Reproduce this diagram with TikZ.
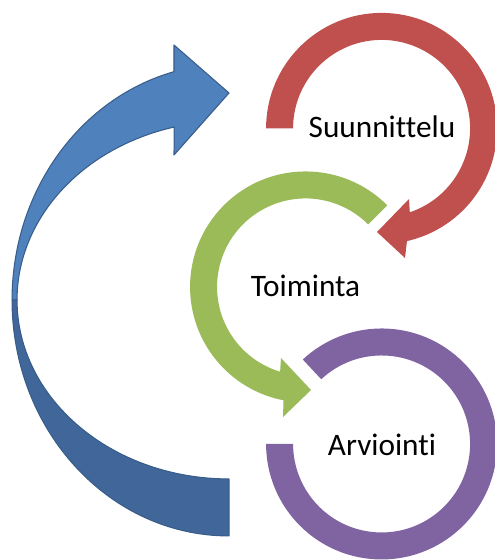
\documentclass[tikz,border=0pt]{standalone}
\usepackage{fontspec}
\setmainfont{Carlito}[Ligatures=NoCommon]
\usetikzlibrary{calc}
\definecolor{planred}{HTML}{C0504D}
\definecolor{actgreen}{HTML}{9BBB59}
\definecolor{evalpurple}{HTML}{8064A2}
\definecolor{backblue}{HTML}{4F81BD}
\definecolor{backdark}{HTML}{41679A}
\definecolor{backline}{HTML}{385D8A}
\begin{document}
\begin{tikzpicture}[scale=0.02,
    ringtext/.style={font=\fontsize{17.8}{20}\selectfont,anchor=base,inner sep=0pt},
    bluearrow/.style={draw=backline,line width=0.6pt,line join=round}]
      \useasboundingbox (0,0) rectangle (495,560);
      \coordinate (plan) at (381.5,431.5);
      \coordinate (act) at (305.5,273);
      \coordinate (eval) at (381.5,116);
      \coordinate (back) at (229,260);
      % big blue arrow, back part first
      \filldraw[bluearrow,fill=backdark] ($(back)+(270:217 and 236)$) arc[start angle=270,end angle=180,x radius=217,y radius=236]
        -- ($(back)+(180:212 and 179)$) arc[start angle=180,end angle=270,x radius=212,y radius=179] -- cycle;
      \filldraw[bluearrow,fill=backblue] ($(back)+(180:217 and 236)$) arc[start angle=180,end angle=104.7,x radius=217,y radius=236]
        -- (174,515) -- (229,467) -- (174,405)
        -- ($(back)+(105:212 and 179)$) arc[start angle=105,end angle=180,x radius=212,y radius=179] -- cycle;
      % rings
      \fill[planred] ($(plan)+(180:115.5)$) arc[start angle=180,end angle=-77.3,radius=115.5]
        -- (405,302) -- (377,328) -- (409,361)
        -- ($(plan)+(-71.4:88.5)$) arc[start angle=-71.4,end angle=180,radius=88.5] -- cycle;
      \fill[actgreen] ($(act)+(45:115.5)$) arc[start angle=45,end angle=259,radius=115.5]
        -- (283,143) -- (311,170) -- (281,202)
        -- ($(act)+(253.3:88.5)$) arc[start angle=253.3,end angle=45,radius=88.5] -- cycle;
      \fill[evalpurple] ($(eval)+(180:115.5)$) arc[start angle=180,end angle=493,radius=115.5]
        -- ($(eval)+(133:88.5)$) arc[start angle=133,end angle=-180,radius=88.5] -- cycle;
      \node[ringtext] (plantext) at (382,422) {Suunnittelu};
      \node[ringtext] (acttext) at (305.5,263.3) {Toiminta};
      \node[ringtext] (evaltext) at (382,104) {Arviointi};
    \end{tikzpicture}
\end{document}
